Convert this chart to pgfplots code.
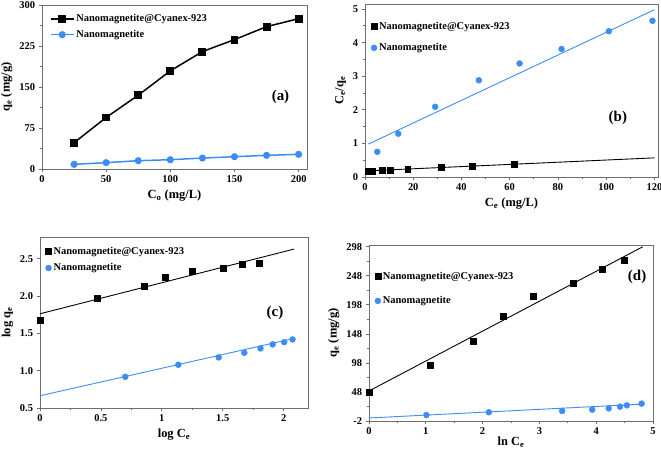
\documentclass[border=0pt]{standalone}
\usepackage{pgfplots}
\pgfplotsset{compat=1.18}
\usepackage{fontspec}
\setmainfont{Liberation Serif}
\definecolor{myblue}{RGB}{60,140,245}
\definecolor{frame}{RGB}{110,110,110}
\pgfplotsset{
  every axis/.append style={
    scale only axis,
    anchor=north west,
    axis line style={frame, line width=0.8pt},
    tick style={frame, line width=0.7pt},
    tick align=outside,
    xtick pos=bottom, ytick pos=left,
    major tick length=3.5pt, minor tick length=2.5pt,
    /pgf/number format/assume math mode=true,
    tick label style={font=\bfseries\fontsize{10.5}{12}\selectfont},
    label style={font=\bfseries\fontsize{12.5}{14}\selectfont},
    legend style={draw=none, fill=none, font=\bfseries\fontsize{10.5}{12}\selectfont,
      legend cell align=left, anchor=north west, inner sep=0pt},
    legend cell align=left,
    clip=false,
  },
  blk/.style={black, mark=square*, mark size=3.2pt, mark options={solid}},
  blu/.style={myblue, mark=*, mark size=2.8pt, mark options={solid}},
  fitline/.style={line width=0.9pt, no marks},
}
\begin{document}
\begin{tikzpicture}
\useasboundingbox (0bp,0bp) rectangle (661bp,-450bp);
% (a)
\begin{axis}[at={(42bp,-5bp)}, width=265bp, height=164bp,
  xmin=0, xmax=206.5, ymin=0, ymax=300,
  xtick={0,50,...,200}, ytick={0,75,...,300},
  minor y tick num=1,
  xlabel={C\textsubscript{o} (mg/L)}, ylabel={q\textsubscript{e} (mg/g)},
  legend style={at={(0.03,0.955)}, row sep=3pt},
  legend image code/.code={\draw[mark repeat=2,mark phase=2] plot coordinates {(0cm,0cm) (0.4cm,0cm) (0.8cm,0cm)};},
]
\addplot[blk, line width=1.5pt] coordinates {(25,48.1) (50,94.3) (75,135) (100,179.5) (125,214.8) (150,236.7) (175,260.4) (200,275)};
\addlegendentry{Nanomagnetite@Cyanex-923}
\addplot[blu, line width=1.5pt] coordinates {(25,8.5) (50,11.6) (75,15.2) (100,17) (125,20) (150,22.5) (175,25) (200,26.8)};
\addlegendentry{Nanomagnetite}
\node[font=\bfseries\fontsize{15}{17}\selectfont] at (rel axis cs:0.90,0.44) {(a)};
\end{axis}
% (b)
\begin{axis}[at={(365bp,-4bp)}, width=293bp, height=173bp,
  xmin=0, xmax=121.5, ymin=0, ymax=5.15,
  xtick={0,20,...,120}, ytick={0,1,...,5},
  minor x tick num=1, minor y tick num=1,
  xlabel={C\textsubscript{e} (mg/L)}, ylabel={C\textsubscript{e}/q\textsubscript{e}},
  legend style={at={(0.02,0.91)}, row sep=9pt},
]
\addplot[blk, only marks, mark size=3pt] coordinates {(1.4,0.17) (3,0.18) (7.3,0.2) (10.3,0.2) (17.7,0.23) (31.4,0.28) (44.6,0.32) (62,0.37)};
\addlegendentry{Nanomagnetite@Cyanex-923}
\addplot[blu, only marks, mark size=3pt] coordinates {(5.1,0.75) (13.8,1.29) (29.1,2.09) (47.2,2.88) (64.1,3.38) (81.5,3.81) (101.1,4.34) (119.2,4.65)};
\addlegendentry{Nanomagnetite}
\addplot[fitline, black] coordinates {(0,0.18) (120,0.57)};
\addplot[fitline, myblue] coordinates {(1.4,0.98) (120,4.98)};
\node[font=\bfseries\fontsize{15}{17}\selectfont] at (rel axis cs:0.863,0.34) {(b)};
\end{axis}
% (c)
\begin{axis}[at={(40bp,-237bp)}, width=268bp, height=171bp,
  xmin=0, xmax=2.2, ymin=0.5, ymax=2.79,
  xtick={0,0.5,...,2}, ytick={0.5,1.0,...,2.5},
  xticklabels={0,0.5,1,1.5,2},
  yticklabel style={/pgf/number format/.cd, fixed, fixed zerofill, precision=1},
  minor x tick num=1,
  xlabel={log C\textsubscript{e}}, ylabel={log q\textsubscript{e}},
  legend style={at={(0.02,0.955)}, row sep=4pt},
]
\addplot[blk, only marks, mark size=3pt] coordinates {(0,1.682) (0.47,1.976) (0.857,2.136) (1.027,2.256) (1.25,2.331) (1.506,2.376) (1.656,2.42) (1.80,2.442)};
\addlegendentry{Nanomagnetite@Cyanex-923}
\addplot[blu, only marks, mark size=3pt] coordinates {(0.70,0.918) (1.135,1.079) (1.467,1.178) (1.677,1.24) (1.81,1.298) (1.91,1.352) (2.005,1.382) (2.073,1.418)};
\addlegendentry{Nanomagnetite}
\addplot[fitline, black] coordinates {(0,1.762) (2.087,2.629)};
\addplot[fitline, myblue] coordinates {(0,0.664) (2.08,1.43)};
\node[font=\bfseries\fontsize{15}{17}\selectfont] at (rel axis cs:0.877,0.556) {(c)};
\end{axis}
% (d)
\begin{axis}[at={(369bp,-245bp)}, width=284bp, height=176bp,
  xmin=0, xmax=5, ymin=-2, ymax=301,
  xtick={0,1,...,5}, ytick={-2,48,...,298},
  minor x tick num=1, minor y tick num=1,
  xlabel={ln C\textsubscript{e}}, ylabel={q\textsubscript{e} (mg/g)},
  xlabel style={yshift=5pt},
  legend style={at={(0.02,0.86)}, row sep=12pt},
]
\addplot[blk, only marks, mark size=3pt] coordinates {(0,48) (1.07,94) (1.83,135.4) (2.37,178.5) (2.89,213.5) (3.60,236) (4.11,259) (4.49,274)};
\addlegendentry{Nanomagnetite@Cyanex-923}
\addplot[blu, only marks, mark size=3pt] coordinates {(1.01,8.3) (2.11,13) (3.40,15.2) (3.93,17.5) (4.22,19.8) (4.42,22.7) (4.54,25) (4.80,27.9)};
\addlegendentry{Nanomagnetite}
\addplot[fitline, black] coordinates {(0,49.7) (4.82,298)};
\addplot[fitline, myblue] coordinates {(0,3.2) (4.8,27)};
\node[font=\bfseries\fontsize{15}{17}\selectfont] at (rel axis cs:0.944,0.818) {(d)};
\end{axis}
\end{tikzpicture}
\end{document}
